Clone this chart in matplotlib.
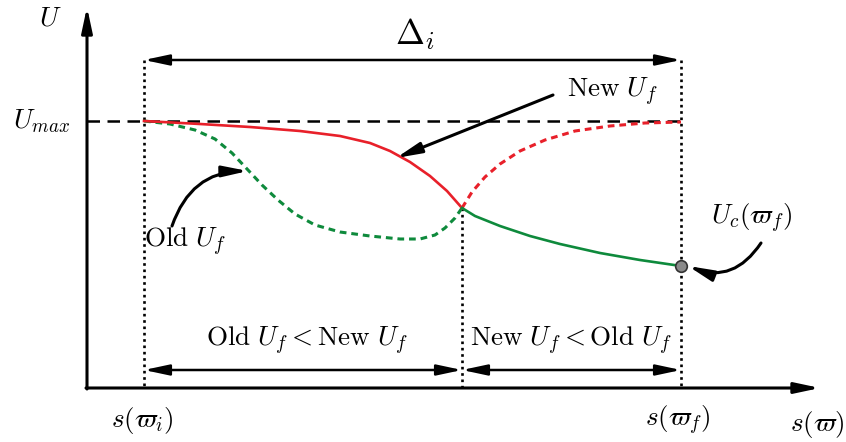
import matplotlib.pyplot as plt
import numpy as np

plt.rcParams['mathtext.fontset'] = 'cm'
plt.rcParams['font.family'] = 'serif'
plt.rcParams['font.serif'] = ['DejaVu Serif']

# schematic, in picture pixel coordinates (y grows downward)
x_i, x_mid, x_f = 144, 462, 681
y_max = 121

red_solid_x = [144, 200, 250, 300, 340, 370, 390, 410, 430, 447, 462]
red_solid_y = [121, 124, 127, 131, 136, 143, 151, 162, 176, 191, 208]
red_dash_x = [462, 472, 485, 500, 520, 545, 575, 610, 645, 681]
red_dash_y = [208, 192, 177, 164, 151, 140, 131, 126, 123, 122]
green_dash_x = [144, 170, 195, 215, 232, 248, 262, 278, 295, 315, 340, 370, 400, 420, 435, 445, 455, 462]
green_dash_y = [121, 124, 130, 139, 153, 170, 185, 200, 214, 225, 232, 236, 239, 239, 235, 228, 218, 208]
green_solid_x = [462, 475, 500, 530, 560, 600, 640, 681]
green_solid_y = [208, 216, 226, 236, 244, 253, 260, 266]

red = '#e8202a'
green = '#0e8a3c'
fs = 19.5

fig = plt.figure(figsize=(8.46, 4.42), dpi=100)
ax = fig.add_axes([0, 0, 1, 1])
ax.set_xlim(0, 846)
ax.set_ylim(442, 0)
ax.axis('off')

akw = dict(arrowstyle='-|>,head_length=1.5,head_width=0.32', color='k', lw=2.2,
           shrinkA=0, shrinkB=0, mutation_scale=10)
# axes
ax.annotate('', xy=(87, 7), xytext=(87, 389), arrowprops=akw)
ax.annotate('', xy=(820, 388), xytext=(86, 388), arrowprops=akw)

# dotted verticals
dot = dict(color='k', ls=(0, (1, 1.4)), lw=1.9)
ax.plot([x_i, x_i], [60, 388], **dot)
ax.plot([x_f, x_f], [60, 388], **dot)
ax.plot([x_mid, x_mid], [208, 388], **dot)

# U_max
ax.plot([87, x_f], [y_max, y_max], color='k', ls=(0, (5, 3)), lw=1.8)

ax.plot(green_dash_x, green_dash_y, color=green, ls=(0, (2.2, 1.6)), lw=2.2)
ax.plot(red_dash_x, red_dash_y, color=red, ls=(0, (2.2, 1.6)), lw=2.2)
ax.plot(red_solid_x, red_solid_y, color=red, lw=1.9)
ax.plot(green_solid_x, green_solid_y, color=green, lw=1.9)
ax.scatter([x_f], [266], s=70, color='#8a8a8a', edgecolor='#333333', lw=1.2, zorder=5)

# Delta_i
dkw = dict(arrowstyle='<|-|>,head_length=1.5,head_width=0.32', color='k', lw=1.8,
           shrinkA=0, shrinkB=0, mutation_scale=10)
ax.annotate('', xy=(x_i, 60), xytext=(x_f, 60), arrowprops=dkw)
ax.text(415, 34, r'$\Delta_i$', fontsize=25, ha='center', va='center')

# bottom intervals
ax.annotate('', xy=(x_i, 370), xytext=(x_mid, 370), arrowprops=dkw)
ax.annotate('', xy=(x_mid, 370), xytext=(x_f, 370), arrowprops=dkw)
ax.text(307, 341, r'$\mathrm{Old}\ U_f < \mathrm{New}\ U_f$', fontsize=fs,
        ha='center', va='center')
ax.text(571, 341, r'$\mathrm{New}\ U_f < \mathrm{Old}\ U_f$', fontsize=fs,
        ha='center', va='center')

# labels
ax.text(50, 18, r'$U$', fontsize=fs, ha='center', va='center')
ax.text(42, 121, r'$U_{max}$', fontsize=fs, ha='center', va='center')
ax.text(142, 420, r'$s(\varpi_i)$', fontsize=fs, ha='center', va='center')
ax.text(678, 420, r'$s(\varpi_f)$', fontsize=fs, ha='center', va='center')
ax.text(817, 424, r'$s(\varpi)$', fontsize=fs, ha='center', va='center')

# annotations
ax.text(612, 92, r'$\mathrm{New}\ U_f$', fontsize=fs, ha='center', va='center')
ax.annotate('', xy=(396, 158), xytext=(553, 95), arrowprops=akw)
ax.text(185, 242, r'$\mathrm{Old}\ U_f$', fontsize=fs, ha='center', va='center')
ax.annotate('', xy=(248, 171), xytext=(172, 226),
            arrowprops=dict(akw, connectionstyle='arc3,rad=-0.35'))
ax.text(752, 218, r'$U_c(\varpi_f)$', fontsize=fs, ha='center', va='center')
ax.annotate('', xy=(688, 266), xytext=(761, 243),
            arrowprops=dict(akw, connectionstyle='arc3,rad=-0.4'))

fig.savefig('out.png', dpi=100)
